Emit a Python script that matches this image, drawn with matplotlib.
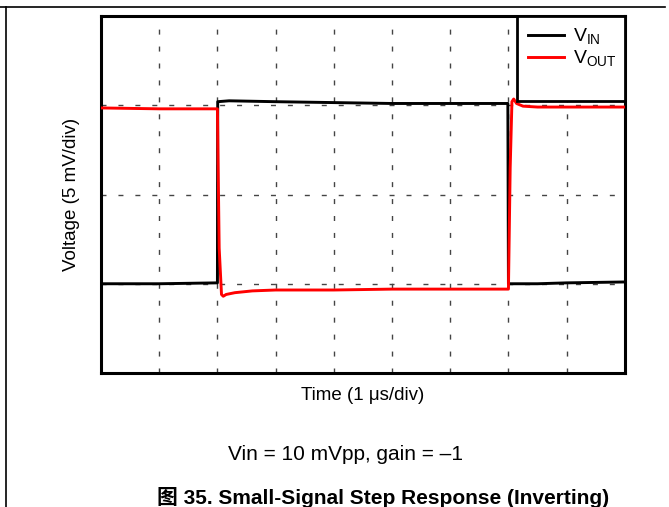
import matplotlib
matplotlib.use("Agg")
import matplotlib.pyplot as plt
from matplotlib.lines import Line2D
from matplotlib.patches import Rectangle

plt.rcParams['font.family'] = ['Liberation Sans', 'Noto Sans CJK SC', 'DejaVu Sans']

# time in divisions (1 us/div), voltage in divisions (5 mV/div)
t_in = [0.0, 1.0, 2.0, 2.005, 2.2, 3.0, 4.0, 5.0, 6.0, 6.99, 7.0, 7.5, 8.0, 9.0]
v_in = [1.00, 1.00, 1.01, 3.04, 3.05, 3.04, 3.03, 3.02, 3.02, 3.02, 1.00, 1.00, 1.01, 1.02]

t_out = [0.0, 1.0, 2.0, 2.03, 2.07, 2.1, 2.15, 2.3, 2.6, 3.0, 4.0, 5.0, 6.0, 7.0,
         7.03, 7.06, 7.09, 7.14, 7.25, 7.5, 8.0, 9.0]
v_out = [2.97, 2.96, 2.96, 1.40, 0.88, 0.86, 0.88, 0.90, 0.92, 0.93, 0.93, 0.94, 0.94, 0.94,
         2.30, 3.04, 3.07, 3.02, 2.99, 2.98, 2.98, 2.98]

x_div = list(range(1, 9))
y_div = [1, 2, 3]

fig = plt.figure(figsize=(6.69, 5.07), dpi=100)
ax = fig.add_axes([0.151, 0.2643, 0.783, 0.7041])

for x in x_div:
    ax.axvline(x, color='#444444', lw=1.0, ls=(0, (3.6, 8.6)), zorder=1)
for y in y_div:
    ax.axhline(y, color='#444444', lw=1.0, ls=(0, (3.6, 8.6)), zorder=1)

ax.plot(t_in, v_in, color='black', lw=2.1, label=r'V$_\mathregular{IN}$', zorder=3)
ax.plot(t_out, v_out, color='#ff0000', lw=2.1, label=r'V$_\mathregular{OUT}$', zorder=4)

ax.set_xlim(0, 9)
ax.set_ylim(0, 4)
ax.set_xticks([])
ax.set_yticks([])
for s in ax.spines.values():
    s.set_linewidth(2.2)

ax.set_xlabel('Time (1 \u03bcs/div)', fontsize=13.5, labelpad=10)
ax.set_ylabel('Voltage (5 mV/div)', fontsize=13.5, labelpad=15)

# legend box drawn separately (taller than the entries)
box = Rectangle((0.794, 0.762), 0.206, 0.238, transform=ax.transAxes,
                facecolor='white', edgecolor='black', lw=2.0, zorder=5)
ax.add_patch(box)
leg = ax.legend(loc='upper left', bbox_to_anchor=(0.794, 1.0), fontsize=14,
                frameon=False, borderaxespad=0, handlelength=1.85,
                handletextpad=0.5, labelspacing=0.1, borderpad=0.55)
leg.set_zorder(6)

fig.text(0.516, 1 - 454 / 507, 'Vin = 10 mVpp, gain = \u20131', fontsize=15,
         ha='center', va='center')
fig.text(0.5725, 1 - 497 / 507, '\u56fe 35. Small-Signal Step Response (Inverting)',
         fontsize=15, fontweight='bold', ha='center', va='center')

fig.add_artist(Line2D([0, 665 / 669], [1 - 7 / 507, 1 - 7 / 507], color='black', lw=1.2))
fig.add_artist(Line2D([6 / 669, 6 / 669], [0, 1 - 7 / 507], color='black', lw=1.2))

fig.savefig('out.png', dpi=100)
